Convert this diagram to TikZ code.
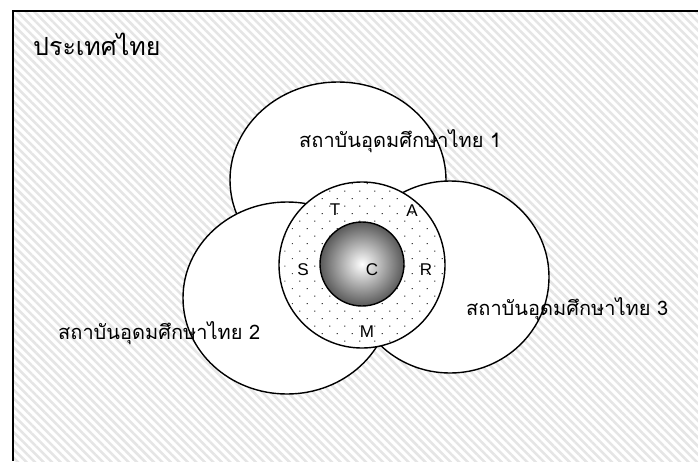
\documentclass[tikz,border=0pt]{standalone}
\usepackage{fontspec}
\setsansfont{Liberation Sans}
\newfontfamily\thaifont[Script=Thai]{Loma}
\usetikzlibrary{shapes.geometric,patterns.meta}

\begin{document}
\begin{tikzpicture}[x=1pt, y=-1pt,
  uni/.style={draw, ellipse, line width=1.4pt, fill=white, inner sep=0pt},
  ring/.style={draw, circle, line width=1.4pt, fill=white, inner sep=0pt,
    postaction={pattern={Dots[angle=45, distance=10.6pt, radius=0.8pt]}, pattern color=black!75}},
  core/.style={draw, circle, line width=1.4pt, inner sep=0pt, shading=radial,
    inner color=white, outer color=gray!70!black},
  thlabel/.style={font=\thaifont\fontsize{20}{24}\selectfont, inner sep=0pt, anchor=base west},
  letter/.style={font=\sffamily\fontsize{17}{20}\selectfont, inner sep=0pt}
]
  \useasboundingbox (0,0) rectangle (698,461);
  \fill[white] (0,0) rectangle (698,461);
  % country frame
  \fill[pattern={Lines[angle=-45, distance=6pt, line width=2.5pt]}, pattern color=gray!20]
    (13,11) rectangle (698,461);
  \draw[line width=2pt] (698,11) -- (13,11) -- (13,461);
  \node[thlabel, font=\thaifont\fontsize{25}{29}\selectfont] (country) at (33,55) {ประเทศไทย};

  % institutions
  \node[uni, minimum width=216pt, minimum height=196pt] (uni1) at (338,180) {};
  \node[uni, minimum width=198pt, minimum height=192pt] (uni3) at (450,277) {};
  \node[uni, minimum width=208pt, minimum height=192pt] (uni2) at (287,298) {};

  % shared core
  \node[ring, minimum size=166pt] (tsarm) at (362,265) {};
  \node[core, minimum size=84pt] (center) at (362,264) {};

  \node[letter] (t) at (335,210) {T};
  \node[letter] (a) at (412,211) {A};
  \node[letter] (s) at (303,270) {S};
  \node[letter] (c) at (372,270) {C};
  \node[letter] (r) at (426,270) {R};
  \node[letter] (m) at (367,332) {M};

  \node[thlabel] (name1) at (299,147) {สถาบันอุดมศึกษาไทย 1};
  \node[thlabel] (name2) at (58,339) {สถาบันอุดมศึกษาไทย 2};
  \node[thlabel] (name3) at (466,315) {สถาบันอุดมศึกษาไทย 3};
\end{tikzpicture}
\end{document}
